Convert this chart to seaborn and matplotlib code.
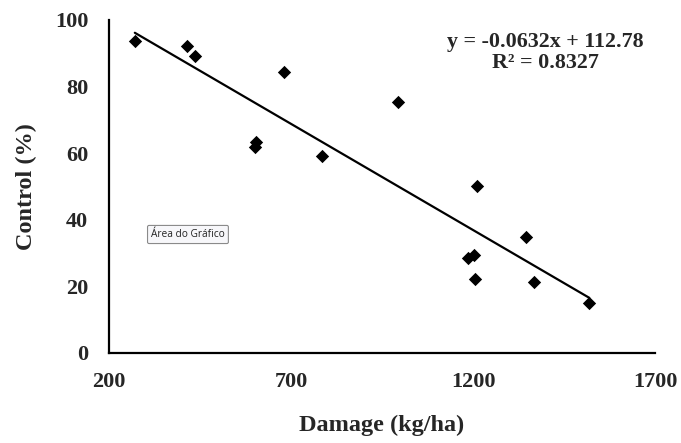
import matplotlib
matplotlib.use("Agg")
import matplotlib.pyplot as plt
import seaborn as sns
import pandas as pd

# values
damage = [271, 413, 436, 603, 601, 682, 784, 995, 1212, 1346, 1187, 1203, 1205, 1368, 1519]
control = [93.7, 92.0, 89.0, 63.2, 61.8, 84.2, 59.0, 75.2, 50.2, 34.9, 28.4, 29.4, 22.3, 21.3, 15.1]
x_ticks = [200, 700, 1200, 1700]
y_ticks = [0, 20, 40, 60, 80, 100]
equation = "y = -0.0632x + 112.78\nR² = 0.8327"

df = pd.DataFrame({"Damage": damage, "Control": control})

sns.set_style("white")
plt.rcParams["font.family"] = ["Liberation Serif", "DejaVu Serif"]
plt.rcParams["font.weight"] = "bold"

fig = plt.figure(figsize=(6.81, 4.43), dpi=100)
ax = fig.add_axes([0.160, 0.2032, 0.802, 0.752])

sns.regplot(data=df, x="Damage", y="Control", ax=ax, ci=None, marker="D",
            color="black", scatter_kws={"s": 46, "linewidths": 0, "alpha": 1},
            line_kws={"linewidth": 1.6})

ax.set_xlim(200, 1700)
ax.set_ylim(0, 100)
ax.set_xticks(x_ticks)
ax.set_yticks(y_ticks)
ax.tick_params(axis="both", length=0, labelsize=16)
ax.tick_params(axis="x", pad=14)
ax.tick_params(axis="y", pad=15)
for lab in ax.get_xticklabels() + ax.get_yticklabels():
    lab.set_fontweight("bold")

ax.set_xlabel("Damage (kg/ha)", fontsize=17.5, fontweight="bold", labelpad=16)
ax.set_ylabel("Control (%)", fontsize=17.5, fontweight="bold", labelpad=13)

sns.despine(ax=ax)
for side in ["left", "bottom"]:
    ax.spines[side].set_linewidth(1.6)
    ax.spines[side].set_color("black")

ax.text(1398, 90.2, equation, ha="center", va="center", fontsize=15.8,
        fontweight="bold", linespacing=1.1)

# Excel tooltip left in the screenshot
fig.text(0.276, 0.4707, "Área do Gráfico", ha="center", va="center",
         fontsize=7.3, family=["Open Sans", "DejaVu Sans"], fontweight="normal",
         color="#222222",
         bbox=dict(boxstyle="round,pad=0.35,rounding_size=0.15",
                   facecolor="#f7f7fa", edgecolor="#8a8a8a", linewidth=0.8))

fig.savefig("out.png", dpi=100)
